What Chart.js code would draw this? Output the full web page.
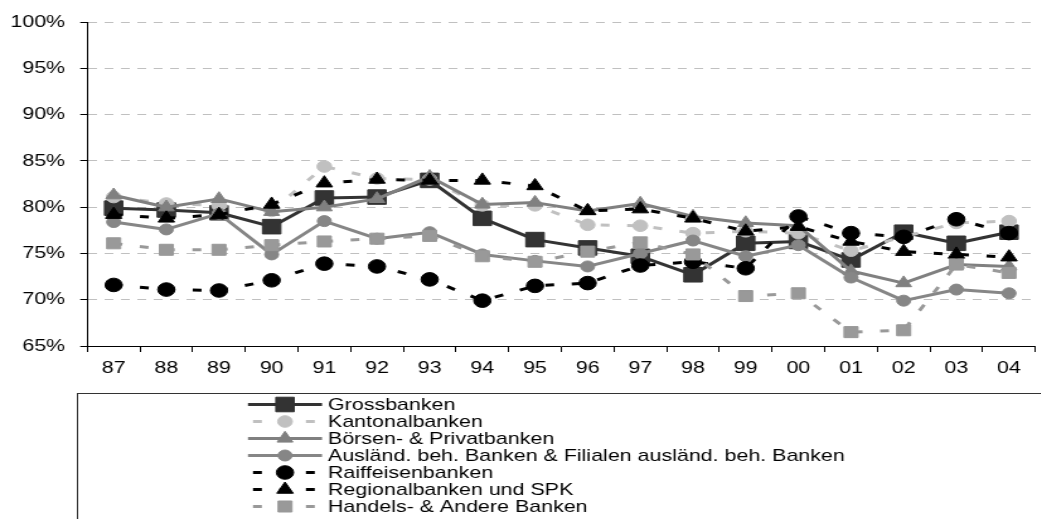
<!DOCTYPE html>
<html>
<head>
<meta charset="utf-8">
<script src="https://cdn.jsdelivr.net/npm/chart.js@4/dist/chart.umd.min.js"></script>
<style>
  html, body { margin: 0; padding: 0; background: #fff; overflow: hidden; width: 1041px; height: 519px; }
  #wrap { position: absolute; left: 0; top: 0; width: 833px; height: 519px; transform: scaleX(1.26); transform-origin: 0 0; }
  canvas { display: block; }
</style>
</head>
<body>
<div id="wrap"><canvas id="c" width="833" height="519" style="width:833px;height:519px"></canvas></div>
<script>
// Jahre (Kategorien)
const years = ['87', '88', '89', '90', '91', '92', '93', '94', '95', '96', '97', '98', '99', '00', '01', '02', '03', '04'];

// Anteile je Bankengruppe in %
const grossbanken   = [79.9, 79.7, 79.4, 77.9, 81.0, 81.1, 82.9, 78.8, 76.5, 75.6, 74.7, 72.7, 76.1, 76.3, 74.3, 77.3, 76.1, 77.3];
const kantonalbanken = [81.1, 80.4, 80.2, 79.6, 84.4, 83.1, 83.0, 80.2, 80.2, 78.1, 78.0, 77.2, 77.4, 77.2, 75.3, 76.8, 78.3, 78.5];
const boersenPrivat = [81.3, 80.0, 80.9, 79.5, 80.0, 80.9, 83.3, 80.3, 80.5, 79.6, 80.4, 79.0, 78.3, 78.0, 73.1, 71.8, 73.8, 73.6];
const auslaendisch  = [78.4, 77.6, 79.3, 74.9, 78.5, 76.6, 77.3, 74.9, 74.2, 73.6, 75.0, 76.4, 74.7, 75.9, 72.4, 69.9, 71.1, 70.7];
const raiffeisen    = [71.6, 71.1, 71.0, 72.1, 73.9, 73.6, 72.2, 69.9, 71.5, 71.8, 73.7, 74.1, 73.4, 79.0, 77.2, 76.8, 78.7, 77.2];
const regionalSPK   = [79.2, 78.8, 79.2, 80.3, 82.6, 83.0, 82.9, 82.9, 82.3, 79.6, 79.8, 78.8, 77.4, 77.9, 76.3, 75.2, 74.9, 74.6];
const handelsAndere = [76.1, 75.4, 75.4, 75.9, 76.3, 76.6, 76.9, 74.7, 74.1, 75.2, 76.2, 74.9, 70.4, 70.7, 66.5, 66.7, 73.8, 72.9];

// Achsenbeschriftung
const yTickValues = [65, 70, 75, 80, 85, 90, 95, 100];
const yTickLabels = ['65%', '70%', '75%', '80%', '85%', '90%', '95%', '100%'];

const FONT = "'Liberation Sans', Arial, sans-serif";
const DASH = [7, 14];

function series(label, data, color, dashed, style, radius, order) {
  return {
    label, data, order,
    borderColor: color,
    backgroundColor: color,
    borderWidth: 3,
    borderDash: dashed ? DASH : [],
    borderCapStyle: 'butt',
    borderJoinStyle: 'round',
    tension: 0,
    pointStyle: style,
    pointRadius: radius,
    pointHoverRadius: radius,
    pointBorderWidth: 1,
    pointBackgroundColor: color,
    pointBorderColor: color
  };
}

const datasets = [
  series('Grossbanken', grossbanken, '#333333', false, 'rect', 10.3, 7),
  series('Kantonalbanken', kantonalbanken, '#c0c0c0', true, 'circle', 5.8, 6),
  series('Börsen- & Privatbanken', boersenPrivat, '#808080', false, 'triangle', 7.2, 5),
  series('Ausländ. beh. Banken & Filialen ausländ. beh. Banken', auslaendisch, '#868686', false, 'circle', 5.5, 4),
  series('Raiffeisenbanken', raiffeisen, '#000000', true, 'circle', 6.8, 3),
  series('Regionalbanken und SPK', regionalSPK, '#000000', true, 'triangle', 7.5, 2),
  series('Handels- & Andere Banken', handelsAndere, '#999999', true, 'rect', 7.8, 1)
];

// Legende im Rahmen unter dem Diagramm
const seriesKey = {
  id: 'seriesKey',
  afterDraw(chart) {
    const ctx = chart.ctx;
    ctx.save();
    ctx.strokeStyle = '#333333';
    ctx.lineWidth = 1;
    ctx.setLineDash([]);
    ctx.strokeRect(61.5, 393.5, 900, 200);
    chart.data.datasets.forEach((ds, i) => {
      const y = 404.5 + 17 * i;
      ctx.save();
      ctx.strokeStyle = ds.borderColor;
      ctx.lineWidth = 3;
      ctx.lineCap = 'butt';
      ctx.setLineDash(ds.borderDash);
      ctx.lineDashOffset = ds.borderDash.length ? 17 : 0;
      ctx.beginPath();
      ctx.moveTo(196.8, y);
      ctx.lineTo(255.6, y);
      ctx.stroke();
      ctx.restore();
      ctx.save();
      ctx.fillStyle = ds.pointBackgroundColor;
      ctx.strokeStyle = ds.pointBorderColor;
      ctx.lineWidth = 1;
      ctx.setLineDash([]);
      Chart.helpers.drawPoint(ctx, { pointStyle: ds.pointStyle, radius: ds.pointRadius, rotation: 0, borderWidth: 1 }, 226.2, y);
      ctx.restore();
      ctx.fillStyle = '#000';
      ctx.font = '17px ' + FONT;
      ctx.textBaseline = 'middle';
      ctx.textAlign = 'left';
      ctx.fillText(ds.label, 260.3, y + 1);
    });
    ctx.restore();
  }
};

new Chart(document.getElementById('c'), {
  type: 'line',
  data: { labels: years, datasets },
  plugins: [seriesKey],
  options: {
    responsive: false,
    animation: false,
    devicePixelRatio: 1,
    events: [],
    layout: { padding: { top: 19, right: 1, bottom: 133, left: 0 } },
    plugins: { legend: { display: false }, tooltip: { enabled: false } },
    scales: {
      x: {
        type: 'category',
        offset: true,
        grid: { display: true, drawOnChartArea: false, offset: true, tickLength: 6, tickColor: '#000', tickWidth: 1 },
        border: { color: '#000', width: 1 },
        ticks: { color: '#000', font: { family: FONT, size: 17 }, padding: 6, maxRotation: 0, autoSkip: false },
        afterFit(s) { s.height = 40; }
      },
      y: {
        min: 65,
        max: 100,
        afterBuildTicks(s) { s.ticks = yTickValues.map(v => ({ value: v })); },
        ticks: {
          color: '#000',
          font: { family: FONT, size: 17 },
          padding: 12,
          callback: (v, i) => yTickLabels[i]
        },
        grid: {
          color: c => (c.tick && c.tick.value === 65) ? 'rgba(0,0,0,0)' : '#c0c0c0',
          lineWidth: 1,
          tickLength: 5.6,
          tickColor: '#000',
          tickWidth: 1,
          tickBorderDash: []
        },
        border: { color: '#000', width: 1, dash: [7, 6] },
        afterFit(s) { s.width = 69.3; }
      }
    }
  }
});
</script>
</body>
</html>
